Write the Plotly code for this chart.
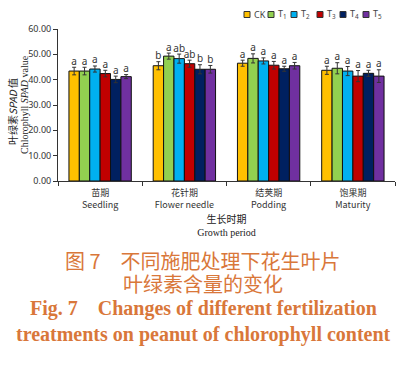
import plotly.graph_objects as go

categories = ["苗期<br>Seedling", "花针期<br>Flower needle", "结荚期<br>Podding", "饱果期<br>Maturity"]
treatments = ["CK", "T<sub>1</sub>", "T<sub>2</sub>", "T<sub>3</sub>", "T<sub>4</sub>", "T<sub>5</sub>"]
colors = ["#FFC000", "#92D050", "#00B0F0", "#C00000", "#002060", "#7030A0"]

# values per treatment across the four periods
values = [
    [43.4, 45.5, 46.5, 43.7],  # CK
    [43.4, 49.3, 48.4, 44.5],  # T1
    [44.2, 48.3, 47.4, 43.4],  # T2
    [42.4, 46.3, 45.7, 41.4],  # T3
    [40.1, 44.1, 44.3, 42.5],  # T4
    [41.2, 44.1, 45.5, 41.4],  # T5
]
errors = [
    [1.5, 1.6, 1.2, 1.6],
    [1.5, 1.2, 1.8, 2.2],
    [1.2, 1.8, 1.2, 1.8],
    [1.3, 1.4, 1.5, 2.2],
    [1.3, 1.8, 1.0, 1.2],
    [0.8, 1.5, 1.3, 2.5],
]
letters = [
    ["a", "b", "a", "a"],
    ["a", "a", "a", "a"],
    ["a", "ab", "a", "a"],
    ["a", "ab", "a", "a"],
    ["a", "b", "a", "a"],
    ["a", "b", "a", "a"],
]

fig = go.Figure()
for i, name in enumerate(treatments):
    fig.add_trace(go.Bar(
        x=categories, y=values[i], name=name,
        marker=dict(color=colors[i], line=dict(color="#111111", width=1)),
        error_y=dict(type="data", array=errors[i], color="#333333", thickness=1, width=2),
        offsetgroup=str(i), showlegend=False,
    ))
for i, name in enumerate(treatments):
    fig.add_trace(go.Scatter(
        x=categories, y=[v + e for v, e in zip(values[i], errors[i])],
        mode="text", text=letters[i], textposition="top center",
        textfont=dict(family="Noto Sans", size=10, color="#333333"),
        offsetgroup=str(i), showlegend=False, hoverinfo="skip", cliponaxis=False,
    ))

L, R = 58, 395
H_TOP, H_BOT = 29, 181
def py(p):
    return (H_BOT - p) / (H_BOT - H_TOP)
def px(p):
    return (p - L) / (R - L)

# manual compact legend (swatch left edges in pixels)
legend_x = [244, 268, 291, 317, 340, 363]
shapes = []
annotations = []
for i, name in enumerate(treatments):
    x0 = legend_x[i]
    shapes.append(dict(type="rect", xref="paper", yref="paper",
                       x0=px(x0), x1=px(x0 + 6), y0=py(17.5), y1=py(11.5),
                       fillcolor=colors[i], line=dict(color="#333333", width=1)))
    annotations.append(dict(text=name, xref="paper", yref="paper", x=px(x0 + 8), y=py(14.5),
                            xanchor="left", yanchor="middle", showarrow=False,
                            font=dict(family="Noto Sans", size=9, color="#444444")))

# y-axis title as two rotated lines
annotations.append(dict(text="叶绿素<i>SPAD</i> 值", xref="paper", yref="paper",
                        x=px(12), y=py(112), xanchor="center", yanchor="middle",
                        textangle=-90, showarrow=False,
                        font=dict(family="Noto Sans CJK SC", size=10, color="#222222")))
annotations.append(dict(text="Chlorophyll <i>SPAD</i> value", xref="paper", yref="paper",
                        x=px(24), y=py(105), xanchor="center", yanchor="middle",
                        textangle=-90, showarrow=False,
                        font=dict(family="Liberation Serif", size=10, color="#222222")))

cap_color = "#D9773A"
ann = [
    dict(text="图 7　不同施肥处理下花生叶片", y=py(260), size=20, family="Noto Sans CJK SC"),
    dict(text="叶绿素含量的变化", y=py(283), size=20, family="Noto Sans CJK SC"),
    dict(text="<b>Fig. 7　Changes of different fertilization</b>", y=py(308), size=20,
         family="Liberation Serif"),
    dict(text="<b>treatments on peanut of chlorophyll content</b>", y=py(334), size=20,
         family="Liberation Serif"),
]
for a in ann:
    annotations.append(dict(
        text=a["text"], xref="paper", yref="paper", x=px(203), y=a["y"],
        xanchor="center", yanchor="middle", showarrow=False,
        font=dict(family=a["family"], size=a["size"], color=cap_color),
    ))

fig.update_layout(
    width=400, height=365,
    margin=dict(l=L, r=400 - R, t=H_TOP, b=365 - H_BOT, autoexpand=False),
    paper_bgcolor="white", plot_bgcolor="white",
    barmode="group", bargap=0.26, bargroupgap=0,
    scattermode="group", scattergap=0.26,
    showlegend=False,
    xaxis=dict(
        automargin=False,
        showline=True, linecolor="#333333", linewidth=1,
        ticks="outside", tickson="boundaries", ticklen=4, tickcolor="#333333",
        ticklabelstandoff=3,
        tickfont=dict(family="Noto Sans CJK SC", size=9, color="#333333"),
        title=dict(text="生长时期<br><span style=\"font-family:'Liberation Serif'\">Growth period</span>",
                   font=dict(family="Noto Sans CJK SC", size=10, color="#222222"), standoff=6),
        range=[-0.5, 3.5], showgrid=False, zeroline=False,
    ),
    yaxis=dict(
        automargin=False,
        range=[0, 60], dtick=10, tickformat=".2f",
        showline=True, linecolor="#333333", linewidth=1,
        ticks="outside", ticklen=4, tickcolor="#333333",
        tickfont=dict(family="Noto Sans", size=9, color="#333333"),
        showgrid=False, zeroline=False,
    ),
    shapes=shapes,
    annotations=annotations,
)

fig.write_html("out.html", config={"displayModeBar": False},
               post_script="document.body.style.margin='0';")
